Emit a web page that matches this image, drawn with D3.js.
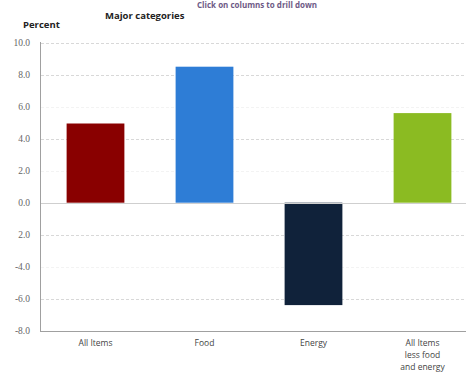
<!DOCTYPE html>
<html><head><meta charset="utf-8">
<script src="https://cdn.jsdelivr.net/npm/d3@7"></script>
<style>body{margin:0;background:#fff}svg{display:block}</style>
</head><body>
<script>
const categories = ["All Items", "Food", "Energy", "All Items|less food|and energy"];
const values = [4.95, 8.5, -6.4, 5.6];
const colors = ["#890000", "#2e7dd6", "#10223a", "#8bbb22"];
const tickValues = [10, 8, 6, 4, 2, 0, -2, -4, -6, -8];
const tickLabels = ["10.0", "8.0", "6.0", "4.0", "2.0", "0.0", "2.0", "-4.0", "-6.0", "-8.0"];
const faintTicks = [6, 2, -4];

const W = 466, H = 374;
const svg = d3.select("body").append("svg").attr("width", W).attr("height", H);

const y = d3.scaleLinear().domain([-8, 10]).range([330.7, 42.7]);
const x = d3.scaleBand().domain(categories).range([41, 477]).paddingInner(0.47).paddingOuter(0.235);

// gridlines
svg.append("g").selectAll("line").data(tickValues.filter(d => d !== 0 && d !== -8)).join("line")
  .attr("x1", 41).attr("x2", W).attr("y1", d => Math.round(y(d)) + 0.5).attr("y2", d => Math.round(y(d)) + 0.5)
  .attr("stroke", d => faintTicks.includes(d) ? "#f3f3f3" : "#d8d8d8")
  .attr("stroke-dasharray", "3,2").attr("stroke-width", 1);

// bars
svg.append("g").selectAll("rect").data(values).join("rect")
  .attr("x", (d, i) => x(categories[i]))
  .attr("width", x.bandwidth())
  .attr("y", d => y(Math.max(0, d)))
  .attr("height", d => Math.abs(y(d) - y(0)))
  .attr("fill", (d, i) => colors[i]);

// zero line
svg.append("line").attr("x1", 41).attr("x2", W).attr("y1", Math.round(y(0)) + 0.5).attr("y2", Math.round(y(0)) + 0.5)
  .attr("stroke", "#cfcfcf").attr("stroke-width", 1);

// y axis
const yAxis = d3.axisLeft(y).tickValues(tickValues).tickSize(0).tickPadding(0)
  .tickFormat((d, i) => tickLabels[i]);
const gy = svg.append("g").attr("transform", "translate(30,0)").call(yAxis);
gy.select(".domain").remove();
gy.attr("font-family", "'Liberation Serif', 'DejaVu Serif', serif");
gy.selectAll("text").style("font-family", "'Liberation Serif', 'DejaVu Serif', serif").attr("font-size", 9.5).attr("fill", "#666");

// axis frame lines
svg.append("line").attr("x1", 40.5).attr("x2", 40.5).attr("y1", 42).attr("y2", 331.5).attr("stroke", "#a0a0a0");
svg.append("line").attr("x1", 40).attr("x2", W).attr("y1", 331.5).attr("y2", 331.5).attr("stroke", "#a0a0a0");

// x axis labels
const xAxis = d3.axisBottom(x).tickSize(0).tickFormat(() => "");
const gx = svg.append("g").attr("transform", "translate(0,331)").call(xAxis);
gx.select(".domain").remove();
gx.selectAll(".tick").each(function(d) {
  const lines = d.split("|");
  const t = d3.select(this).append("text")
    .attr("text-anchor", "middle").style("font-family", "'Open Sans', sans-serif")
    .attr("font-size", 8.5).attr("fill", "#444");
  lines.forEach((l, i) => t.append("tspan").attr("x", 0).attr("y", 15 + i * 12).text(l));
});

// titles
svg.append("text").attr("x", 23).attr("y", 28).text("Percent")
  .style("font-family", "'Open Sans', sans-serif").attr("font-weight", "bold").attr("font-size", 9.5).attr("fill", "#222");
svg.append("text").attr("x", 105).attr("y", 19).text("Major categories")
  .style("font-family", "'Open Sans', sans-serif").attr("font-weight", "bold").attr("font-size", 9.5).attr("fill", "#222");
svg.append("text").attr("x", 197).attr("y", 8).text("Click on columns to drill down")
  .style("font-family", "'Open Sans', sans-serif").attr("font-weight", "bold").attr("font-size", 8).attr("fill", "#6e5a86");
</script>
</body></html>
